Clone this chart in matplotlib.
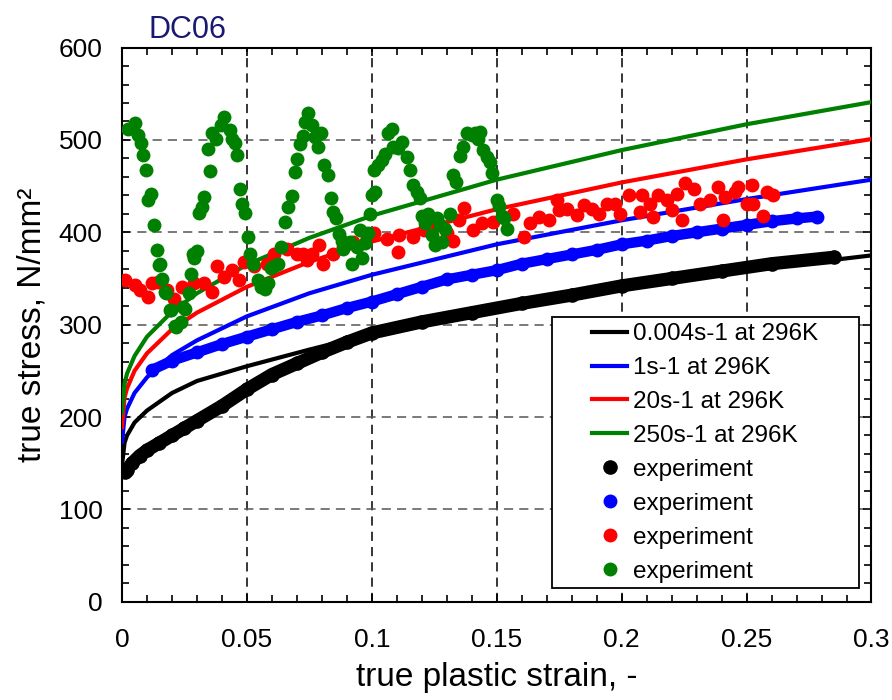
import matplotlib.pyplot as plt
from matplotlib.ticker import MultipleLocator, FormatStrFormatter
from matplotlib.patches import Rectangle

plt.rcParams['font.family'] = ['Liberation Sans', 'DejaVu Sans']

# model curves (strain, stress)
mod_x = [0, 0.001, 0.002, 0.005, 0.01, 0.02, 0.03, 0.05, 0.075, 0.1, 0.15, 0.2, 0.25, 0.3]
mod_black = [148, 172, 180, 194, 207, 226, 239, 255, 273, 290, 318, 340, 359, 375]
mod_blue = [173, 200, 209, 226, 243, 267, 283, 309, 334, 354, 387, 413, 436, 457]
mod_red = [189, 221, 231, 250, 269, 295, 313, 341, 368, 390, 425, 454, 479, 501]
mod_green = [205, 236, 247, 266, 287, 314, 334, 365, 394, 418, 457, 489, 517, 541]

# experiment 0.004 s-1 (dense points)
exp_black_x = [0.001, 0.002, 0.004, 0.007, 0.01, 0.015, 0.02, 0.025, 0.03, 0.04, 0.05, 0.06,
               0.07, 0.08, 0.09, 0.1, 0.12, 0.14, 0.16, 0.18, 0.2, 0.22, 0.24, 0.26, 0.285]
exp_black_y = [141, 143, 150, 158, 164, 172, 180, 188, 196, 212, 230, 246,
               258, 270, 281, 291, 303, 313, 323, 332, 342, 350, 358, 366, 373]

# experiment 1 s-1
exp_blue_x = [0.012, 0.02, 0.03, 0.04, 0.05, 0.06, 0.07, 0.08, 0.09, 0.1, 0.11, 0.12, 0.13, 0.14,
              0.15, 0.16, 0.17, 0.18, 0.19, 0.2, 0.21, 0.22, 0.23, 0.24, 0.25, 0.26, 0.27, 0.278]
exp_blue_y = [251, 261, 270, 279, 287, 295, 303, 310, 318, 325, 333, 341, 349, 354,
              359, 366, 371, 376, 381, 387, 391, 396, 400, 404, 408, 412, 415, 417]

# experiment 20 s-1
exp_red_x = [0.001, 0.005, 0.007, 0.0104, 0.012, 0.0144, 0.018, 0.021, 0.024, 0.029, 0.033, 0.036,
             0.038, 0.041, 0.044, 0.047, 0.049, 0.053, 0.058, 0.061, 0.066, 0.070, 0.0725, 0.074,
             0.076, 0.079, 0.0805, 0.0845, 0.0885, 0.0925, 0.098, 0.101, 0.106, 0.1105, 0.111,
             0.1165, 0.121, 0.126, 0.130, 0.1325, 0.135, 0.137, 0.1405, 0.144, 0.1485, 0.1525,
             0.1565, 0.161, 0.1633, 0.167, 0.171, 0.174, 0.175, 0.178, 0.182, 0.185, 0.188,
             0.191, 0.194, 0.1973, 0.1993, 0.203, 0.2073, 0.208, 0.2113, 0.2127, 0.2147, 0.218,
             0.22, 0.222, 0.224, 0.2254, 0.229, 0.2313, 0.2354, 0.2387, 0.2407, 0.2414, 0.2454,
             0.2467, 0.25, 0.252, 0.2527, 0.2567, 0.258, 0.2607]
exp_red_y = [348, 343, 337, 330, 345, 346, 337, 328, 341, 345, 345, 335,
             364, 352, 359, 348, 368, 364, 366, 377, 382, 377, 377, 370,
             377, 386, 366, 377, 384, 390, 395, 399, 393, 379, 397,
             395, 402, 408, 399, 391, 413, 426, 402, 410, 411, 417,
             420, 395, 410, 417, 413, 435, 424, 425, 419, 430, 425,
             420, 431, 431, 420, 440, 422, 440, 431, 417, 440, 435,
             424, 442, 413, 453, 447, 431, 435, 449, 413, 438, 444,
             449, 431, 451, 431, 418, 444, 440]

# experiment 250 s-1
exp_green_x = [0.0024, 0.005, 0.0062, 0.0075, 0.0084, 0.0094, 0.0104, 0.0115, 0.0127, 0.0138,
               0.0148, 0.0151, 0.016, 0.0171, 0.0178, 0.0191, 0.0198, 0.0211, 0.0218, 0.0238,
               0.0244, 0.0251, 0.027, 0.0278, 0.0284, 0.029, 0.030, 0.031, 0.032, 0.033, 0.0344,
               0.0354, 0.0362, 0.0378, 0.0395, 0.0407, 0.0431, 0.044, 0.0454, 0.0462, 0.0473,
               0.048, 0.0493, 0.0505, 0.0514, 0.0525, 0.0545, 0.0558, 0.0571, 0.0585, 0.0598,
               0.0609, 0.0625, 0.0638, 0.0652, 0.0665, 0.0681, 0.0692, 0.0702, 0.0712, 0.0725,
               0.0734, 0.0745, 0.0762, 0.0772, 0.0785, 0.0798, 0.0808, 0.0825, 0.0835, 0.0845,
               0.0856, 0.0869, 0.0879, 0.0885, 0.0912, 0.0919, 0.0939, 0.0952, 0.0959, 0.0972,
               0.0985, 0.0992, 0.0999, 0.1008, 0.1012, 0.1025, 0.1039, 0.1052, 0.1065, 0.1079,
               0.1085, 0.1105, 0.1119, 0.1139, 0.1152, 0.1165, 0.1179, 0.1192, 0.1199, 0.1212,
               0.1225, 0.1239, 0.1252, 0.1259, 0.1272, 0.1279, 0.1292, 0.1312, 0.1326, 0.1336,
               0.1352, 0.1366, 0.1379, 0.1399, 0.1412, 0.1426, 0.1432, 0.1443, 0.1459, 0.1473,
               0.1479, 0.1499, 0.151, 0.152, 0.1529, 0.154]
exp_green_y = [512, 518, 505, 497, 484, 468, 435, 441, 408, 381,
               365, 366, 349, 335, 334, 316, 316, 299, 298, 303,
               319, 317, 334, 355, 377, 372, 380, 421, 427, 438, 490,
               466, 508, 501, 516, 525, 511, 501, 497, 484, 447,
               431, 421, 395, 376, 366, 348, 341, 339, 345, 361,
               363, 366, 384, 411, 427, 439, 465, 479, 496, 504,
               519, 529, 516, 503, 492, 508, 473, 462, 437, 422,
               415, 398, 391, 382, 390, 366, 384, 402, 372, 388,
               399, 420, 440, 467, 444, 473, 478, 485, 507, 512,
               492, 491, 498, 482, 467, 451, 444, 437, 418, 410,
               420, 397, 386, 415, 408, 390, 404, 420, 462, 455,
               483, 492, 507, 505, 507, 501, 509, 489, 482, 476,
               464, 435, 429, 418, 415, 404]

fig = plt.figure(figsize=(8.92, 7), dpi=100)
ax = fig.add_axes([0.1368, 0.1404, 0.8402, 0.7916])

ax.plot(mod_x, mod_black, color='black', lw=3, label='0.004s-1 at 296K', zorder=3)
ax.plot(mod_x, mod_blue, color='#0000ff', lw=3, label='1s-1 at 296K', zorder=3)
ax.plot(mod_x, mod_red, color='#ff0000', lw=3, label='20s-1 at 296K', zorder=3)
ax.plot(mod_x, mod_green, color='#008000', lw=3, label='250s-1 at 296K', zorder=3)

ax.plot(exp_black_x, exp_black_y, color='black', lw=9.5, solid_capstyle='round', zorder=4)
ax.plot(exp_black_x, exp_black_y, 'o', color='black', ms=9.5, label='experiment', zorder=4)
ax.plot(exp_blue_x, exp_blue_y, color='#0000ff', lw=7.5, solid_capstyle='round', zorder=4)
ax.plot(exp_blue_x, exp_blue_y, 'o', color='#0000ff', ms=9, label='experiment', zorder=4)
ax.plot(exp_red_x, exp_red_y, 'o', color='#ff0000', ms=9, label='experiment', zorder=5)
ax.plot(exp_green_x, exp_green_y, 'o', color='#008000', ms=9, label='experiment', zorder=6)

ax.set_xlim(0, 0.3)
ax.set_ylim(0, 600)
ax.xaxis.set_major_locator(MultipleLocator(0.05))
ax.xaxis.set_minor_locator(MultipleLocator(0.01))
ax.xaxis.set_major_formatter(FormatStrFormatter('%g'))
ax.yaxis.set_major_locator(MultipleLocator(100))
ax.yaxis.set_minor_locator(MultipleLocator(20))

ax.tick_params(which='both', direction='in', top=True, right=True, width=1.2)
ax.tick_params(which='major', length=6)
ax.tick_params(which='minor', length=5)
ax.tick_params(axis='x', labelsize=19, pad=19)
ax.tick_params(axis='y', labelsize=19, pad=14)

ax.xaxis.grid(True, which='major', color='black', linestyle=(0, (6, 4)), lw=1.1)
ax.yaxis.grid(True, which='major', color='#555555', linestyle=(0, (6, 4)), lw=1.1)
ax.set_axisbelow(True)
for s in ax.spines.values():
    s.set_linewidth(1.5)

ax.set_xlabel('true plastic strain, -', fontsize=24, labelpad=7)
ax.set_ylabel('true stress, N/mm²', fontsize=24, labelpad=8)
ax.text(0.035, 1.017, 'DC06', transform=ax.transAxes, fontsize=22, color='#191970',
        va='baseline', ha='left')

# legend box drawn separately so the left margin matches
ax.add_patch(Rectangle((0.5735, 0.0242), 0.4105, 0.4888, transform=ax.transAxes,
                       facecolor='white', edgecolor='black', lw=1.3, zorder=9))
leg = ax.legend(loc='center left', bbox_to_anchor=(0.627, 0.2686), borderaxespad=0,
                fontsize=17.5, frameon=False, labelspacing=0.49, handlelength=1.45,
                handletextpad=0.25, borderpad=0)
leg.set_zorder(10)

fig.savefig('out.png', dpi=100)
